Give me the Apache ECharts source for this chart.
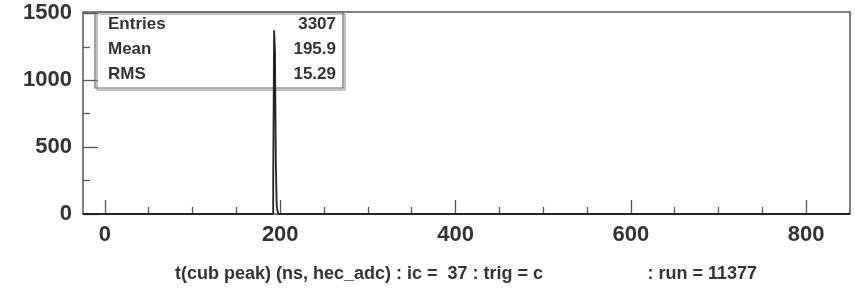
<!DOCTYPE html>
<html>
<head>
<meta charset="utf-8">
<script src="https://cdn.jsdelivr.net/npm/echarts@6/dist/echarts.min.js"></script>
<style>
  html, body { margin: 0; padding: 0; background: #fff; }
  #chart { width: 855px; height: 295px; }
</style>
</head>
<body>
<div id="chart"></div>
<script>
  // histogram bins: left edge (ns) and counts
  const binEdges = [192, 193, 194, 195, 196, 197];
  const binCounts = [256, 1374, 1213, 369, 60, 20];
  const binWidth = 1;
  const xMin = -25, xMax = 850;
  const yMin = 0, yMax = 1510;
  const xMajor = [0, 200, 400, 600, 800];
  const xMinor = [50, 100, 150, 250, 300, 350, 450, 500, 550, 650, 700, 750];
  const yMajor = [0, 500, 1000, 1500];
  const yMinor = [250, 750, 1250];
  const statNames = ['Entries', 'Mean', 'RMS'];
  const statValues = ['3307', '195.9', '15.29'];
  const titleLeft = 't(cub peak) (ns, hec_adc) : ic =  37 : trig = c';
  const titleRight = ': run = 11377';

  // step outline of the histogram
  let pts = [[xMin, 0]];
  binEdges.forEach(function (e, i) { pts.push([e, binCounts[i]]); });
  pts.push([binEdges[binEdges.length - 1] + binWidth, 0]);
  pts.push([xMax, 0]);

  const font = 'Liberation Sans, Arial, sans-serif';
  const ink = '#333';
  const axisCol = '#555';
  const plain = function (v) { return String(v); };

  const statGraphics = [];
  statNames.forEach(function (n, i) {
    statGraphics.push({
      type: 'text', left: 108, top: 16 + i * 25,
      style: { text: n, font: 'bold 17px ' + font, fill: ink }
    });
    statGraphics.push({
      type: 'text', right: 855 - 336, top: 16 + i * 25,
      style: { text: statValues[i], font: 'bold 17px ' + font, fill: ink, align: 'right' }
    });
  });

  var myChart = echarts.init(document.getElementById('chart'));
  myChart.setOption({
    animation: false,
    grid: {
      left: 83, right: 5, top: 12, bottom: 81,
      show: true, borderColor: axisCol, borderWidth: 1.5, backgroundColor: '#fff'
    },
    xAxis: [
      {
        type: 'value', min: xMin, max: xMax,
        axisLine: { show: false, onZero: false },
        splitLine: { show: false },
        axisTick: { inside: true, length: 14, customValues: xMajor, lineStyle: { color: axisCol, width: 1.3 } },
        axisLabel: { customValues: xMajor, formatter: plain, margin: 10, color: ink, fontSize: 22, fontWeight: 'bold', fontFamily: font }
      },
      {
        type: 'value', min: xMin, max: xMax, position: 'bottom',
        axisLine: { show: false, onZero: false },
        splitLine: { show: false },
        axisTick: { inside: true, length: 7, customValues: xMinor, lineStyle: { color: axisCol, width: 1.3 } },
        axisLabel: { show: false }
      }
    ],
    yAxis: [
      {
        type: 'value', min: yMin, max: yMax,
        axisLine: { show: false, onZero: false },
        splitLine: { show: false },
        axisTick: { inside: true, length: 15, customValues: yMajor, lineStyle: { color: axisCol, width: 1.3 } },
        axisLabel: { customValues: yMajor, formatter: plain, margin: 11, color: ink, fontSize: 22, fontWeight: 'bold', fontFamily: font }
      },
      {
        type: 'value', min: yMin, max: yMax, position: 'left',
        axisLine: { show: false, onZero: false },
        splitLine: { show: false },
        axisTick: { inside: true, length: 7, customValues: yMinor, lineStyle: { color: axisCol, width: 1.3 } },
        axisLabel: { show: false }
      }
    ],
    graphic: [
      // stats box with shadow
      { type: 'rect', shape: { x: 97, y: 14, width: 248, height: 76 }, style: { fill: 'none', stroke: '#888', lineWidth: 1 }, z: 90 },
      { type: 'rect', shape: { x: 95, y: 12, width: 248, height: 76 }, style: { fill: 'rgba(255,255,255,0)', stroke: '#666', lineWidth: 1.2 }, z: 91 }
    ].concat(statGraphics).concat([
      { type: 'text', left: 175, top: 265, style: { text: titleLeft, font: 'bold 18px ' + font, fill: ink } },
      { type: 'text', right: 855 - 757, top: 265, style: { text: titleRight, font: 'bold 18px ' + font, fill: ink, align: 'right' } }
    ]),
    series: [
      {
        type: 'line', step: 'end', symbol: 'none',
        xAxisIndex: 0, yAxisIndex: 0,
        data: pts,
        lineStyle: { color: '#222', width: 1.8 },
        z: 100
      }
    ]
  });
</script>
</body>
</html>
